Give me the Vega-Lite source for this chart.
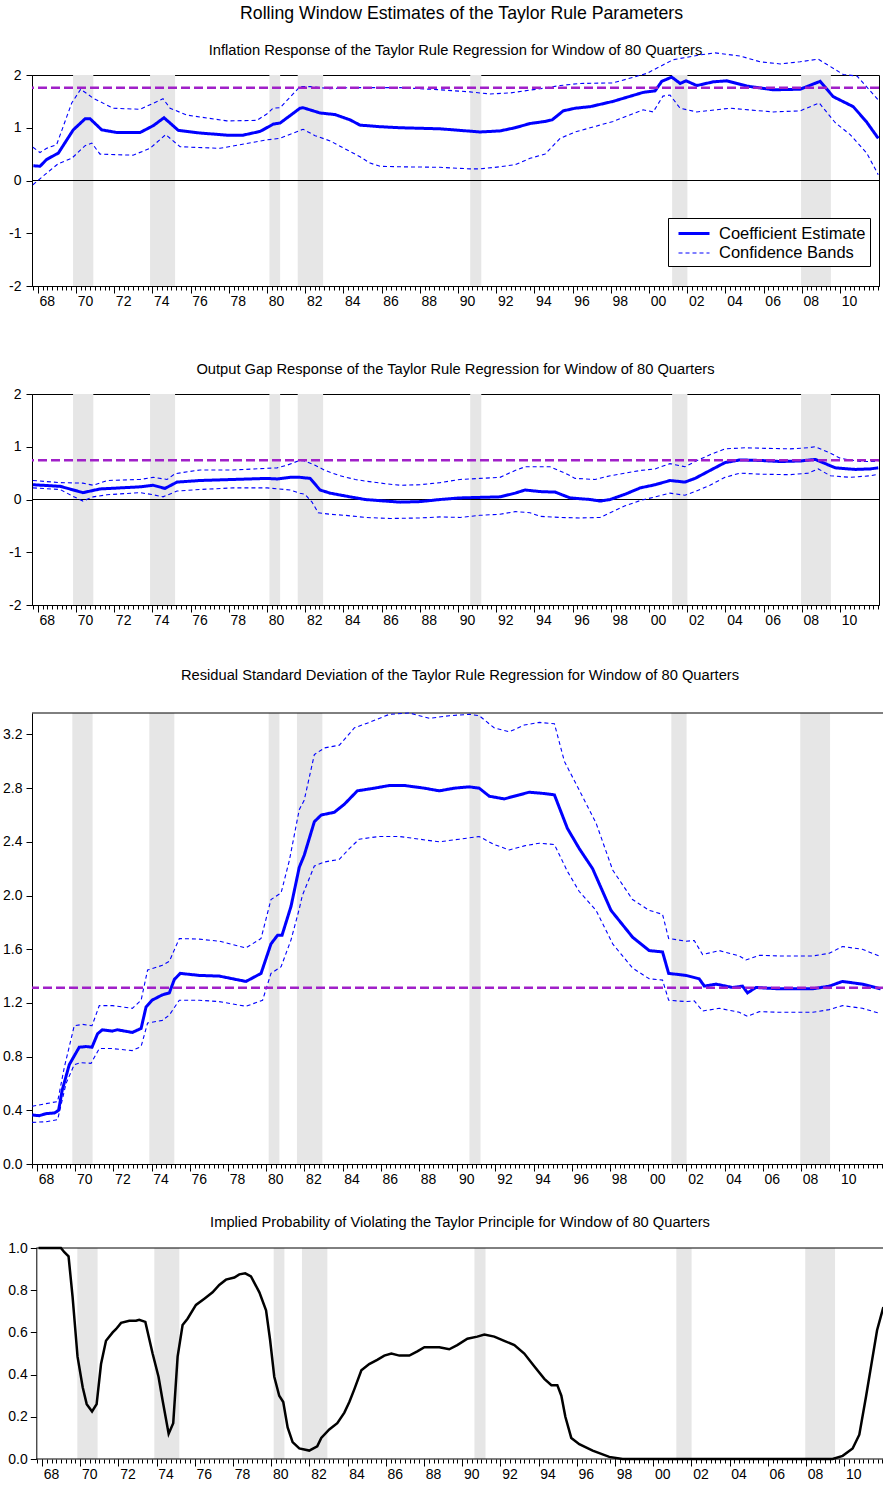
{
  "$schema": "https://vega.github.io/schema/vega-lite/v6.json",
  "padding": {"left": 0, "top": 4, "right": 0, "bottom": 4},
  "background": "white",
  "title": {"text": "Rolling Window Estimates of the Taylor Rule Parameters", "fontSize": 17.7, "fontWeight": "normal", "font": "Liberation Sans", "color": "black", "anchor": "middle", "offset": 20, "dx": 17},
  "config": {
    "font": "Liberation Sans",
    "view": {"stroke": "black", "strokeWidth": 1},
    "axis": {"labelFont": "Liberation Sans", "labelFontSize": 14, "labelColor": "black", "tickColor": "black", "domainColor": "black", "grid": false, "tickWidth": 1, "domainWidth": 1},
    "title": {"font": "Liberation Sans", "fontWeight": "normal", "color": "black"},
    "legend": {"labelFont": "Liberation Sans"}
  },
  "datasets": {
    "bands": [{"s":1969.85,"e":1970.91},{"s":1973.88,"e":1975.19},{"s":1980.13,"e":1980.69},{"s":1981.61,"e":1982.94},{"s":1990.64,"e":1991.22},{"s":2001.21,"e":2002.01},{"s":2007.96,"e":2009.52}],
    "p1": [
      {"s":"e","t":1967.77,"v":0.28},{"s":"e","t":1968.12,"v":0.27},{"s":"e","t":1968.47,"v":0.40},{"s":"e","t":1969.08,"v":0.52},{"s":"e","t":1969.86,"v":0.96},{"s":"e","t":1970.48,"v":1.17},{"s":"e","t":1970.74,"v":1.17},{"s":"e","t":1971.35,"v":0.96},{"s":"e","t":1972.14,"v":0.91},{"s":"e","t":1973.36,"v":0.91},{"s":"e","t":1974.05,"v":1.04},{"s":"e","t":1974.61,"v":1.19},{"s":"e","t":1975.36,"v":0.95},{"s":"e","t":1976.50,"v":0.90},{"s":"e","t":1977.90,"v":0.86},{"s":"e","t":1978.75,"v":0.86},{"s":"e","t":1979.64,"v":0.93},{"s":"e","t":1980.34,"v":1.07},{"s":"e","t":1980.69,"v":1.09},{"s":"e","t":1981.73,"v":1.37},{"s":"e","t":1981.89,"v":1.38},{"s":"e","t":1982.78,"v":1.28},{"s":"e","t":1983.56,"v":1.25},{"s":"e","t":1984.35,"v":1.15},{"s":"e","t":1984.87,"v":1.05},{"s":"e","t":1985.92,"v":1.02},{"s":"e","t":1986.97,"v":1.00},{"s":"e","t":1989.06,"v":0.98},{"s":"e","t":1990.11,"v":0.95},{"s":"e","t":1991.15,"v":0.92},{"s":"e","t":1992.20,"v":0.94},{"s":"e","t":1992.99,"v":1.00},{"s":"e","t":1993.77,"v":1.08},{"s":"e","t":1994.56,"v":1.12},{"s":"e","t":1994.93,"v":1.15},{"s":"e","t":1995.51,"v":1.32},{"s":"e","t":1996.13,"v":1.37},{"s":"e","t":1996.92,"v":1.40},{"s":"e","t":1998.12,"v":1.50},{"s":"e","t":1999.69,"v":1.67},{"s":"e","t":2000.32,"v":1.70},{"s":"e","t":2000.67,"v":1.88},{"s":"e","t":2001.19,"v":1.96},{"s":"e","t":2001.63,"v":1.84},{"s":"e","t":2001.94,"v":1.89},{"s":"e","t":2002.50,"v":1.80},{"s":"e","t":2003.36,"v":1.87},{"s":"e","t":2004.07,"v":1.89},{"s":"e","t":2005.12,"v":1.79},{"s":"e","t":2006.50,"v":1.72},{"s":"e","t":2007.91,"v":1.73},{"s":"e","t":2008.96,"v":1.88},{"s":"e","t":2009.64,"v":1.59},{"s":"e","t":2010.69,"v":1.40},{"s":"e","t":2011.37,"v":1.12},{"s":"e","t":2012.0,"v":0.80},
      {"s":"u","t":1967.75,"v":0.63},{"s":"u","t":1968.12,"v":0.53},{"s":"u","t":1968.47,"v":0.61},{"s":"u","t":1968.99,"v":0.68},{"s":"u","t":1969.78,"v":1.47},{"s":"u","t":1970.25,"v":1.73},{"s":"u","t":1970.91,"v":1.56},{"s":"u","t":1971.94,"v":1.37},{"s":"u","t":1973.36,"v":1.35},{"s":"u","t":1974.56,"v":1.55},{"s":"u","t":1974.93,"v":1.37},{"s":"u","t":1975.80,"v":1.24},{"s":"u","t":1977.90,"v":1.13},{"s":"u","t":1979.47,"v":1.14},{"s":"u","t":1979.99,"v":1.26},{"s":"u","t":1980.32,"v":1.37},{"s":"u","t":1980.69,"v":1.38},{"s":"u","t":1981.73,"v":1.78},{"s":"u","t":1982.26,"v":1.78},{"s":"u","t":1983.31,"v":1.74},{"s":"u","t":1984.35,"v":1.76},{"s":"u","t":1986.97,"v":1.76},{"s":"u","t":1989.06,"v":1.72},{"s":"u","t":1990.63,"v":1.68},{"s":"u","t":1991.68,"v":1.64},{"s":"u","t":1992.73,"v":1.66},{"s":"u","t":1994.30,"v":1.74},{"s":"u","t":1995.35,"v":1.80},{"s":"u","t":1996.39,"v":1.84},{"s":"u","t":1998.12,"v":1.85},{"s":"u","t":1999.88,"v":2.03},{"s":"u","t":2000.73,"v":2.19},{"s":"u","t":2001.26,"v":2.29},{"s":"u","t":2002.68,"v":2.38},{"s":"u","t":2003.46,"v":2.42},{"s":"u","t":2004.77,"v":2.36},{"s":"u","t":2005.82,"v":2.25},{"s":"u","t":2006.87,"v":2.21},{"s":"u","t":2007.91,"v":2.25},{"s":"u","t":2008.86,"v":2.30},{"s":"u","t":2010.17,"v":2.01},{"s":"u","t":2010.89,"v":1.98},{"s":"u","t":2012.0,"v":1.53},
      {"s":"l","t":1967.75,"v":-0.08},{"s":"l","t":1968.47,"v":0.14},{"s":"l","t":1969.08,"v":0.32},{"s":"l","t":1969.78,"v":0.42},{"s":"l","t":1970.48,"v":0.66},{"s":"l","t":1970.83,"v":0.71},{"s":"l","t":1971.26,"v":0.50},{"s":"l","t":1972.99,"v":0.48},{"s":"l","t":1973.88,"v":0.61},{"s":"l","t":1974.70,"v":0.87},{"s":"l","t":1975.45,"v":0.64},{"s":"l","t":1977.54,"v":0.61},{"s":"l","t":1979.99,"v":0.77},{"s":"l","t":1980.69,"v":0.80},{"s":"l","t":1981.73,"v":0.95},{"s":"l","t":1981.89,"v":0.97},{"s":"l","t":1982.52,"v":0.85},{"s":"l","t":1983.31,"v":0.75},{"s":"l","t":1984.09,"v":0.60},{"s":"l","t":1984.87,"v":0.45},{"s":"l","t":1985.40,"v":0.33},{"s":"l","t":1985.92,"v":0.27},{"s":"l","t":1986.97,"v":0.26},{"s":"l","t":1989.06,"v":0.25},{"s":"l","t":1990.63,"v":0.22},{"s":"l","t":1991.15,"v":0.22},{"s":"l","t":1992.20,"v":0.26},{"s":"l","t":1992.99,"v":0.30},{"s":"l","t":1993.77,"v":0.42},{"s":"l","t":1994.56,"v":0.50},{"s":"l","t":1995.35,"v":0.80},{"s":"l","t":1996.13,"v":0.92},{"s":"l","t":1998.12,"v":1.12},{"s":"l","t":1999.69,"v":1.34},{"s":"l","t":2000.22,"v":1.30},{"s":"l","t":2000.73,"v":1.60},{"s":"l","t":2001.10,"v":1.62},{"s":"l","t":2001.63,"v":1.37},{"s":"l","t":2002.50,"v":1.30},{"s":"l","t":2004.24,"v":1.37},{"s":"l","t":2006.50,"v":1.30},{"s":"l","t":2007.91,"v":1.32},{"s":"l","t":2008.91,"v":1.47},{"s":"l","t":2009.74,"v":1.10},{"s":"l","t":2010.53,"v":0.87},{"s":"l","t":2011.40,"v":0.52},{"s":"l","t":2012.0,"v":0.11}
    ],
    "p2": [
      {"s":"e","t":1967.75,"v":0.28},{"s":"e","t":1969.17,"v":0.25},{"s":"e","t":1970.37,"v":0.13},{"s":"e","t":1971.26,"v":0.20},{"s":"e","t":1973.36,"v":0.24},{"s":"e","t":1974.04,"v":0.27},{"s":"e","t":1974.66,"v":0.21},{"s":"e","t":1975.29,"v":0.33},{"s":"e","t":1976.50,"v":0.36},{"s":"e","t":1978.23,"v":0.38},{"s":"e","t":1980.01,"v":0.40},{"s":"e","t":1980.53,"v":0.39},{"s":"e","t":1981.21,"v":0.42},{"s":"e","t":1981.73,"v":0.42},{"s":"e","t":1982.26,"v":0.40},{"s":"e","t":1982.78,"v":0.18},{"s":"e","t":1983.31,"v":0.12},{"s":"e","t":1984.35,"v":0.05},{"s":"e","t":1985.14,"v":0.00},{"s":"e","t":1986.19,"v":-0.03},{"s":"e","t":1986.97,"v":-0.05},{"s":"e","t":1988.02,"v":-0.04},{"s":"e","t":1989.06,"v":0.00},{"s":"e","t":1990.11,"v":0.03},{"s":"e","t":1991.15,"v":0.04},{"s":"e","t":1992.20,"v":0.05},{"s":"e","t":1992.99,"v":0.12},{"s":"e","t":1993.51,"v":0.18},{"s":"e","t":1994.30,"v":0.15},{"s":"e","t":1995.09,"v":0.14},{"s":"e","t":1995.87,"v":0.03},{"s":"e","t":1996.92,"v":0.00},{"s":"e","t":1997.44,"v":-0.03},{"s":"e","t":1997.97,"v":0.00},{"s":"e","t":1998.75,"v":0.10},{"s":"e","t":1999.54,"v":0.22},{"s":"e","t":2000.32,"v":0.28},{"s":"e","t":2001.10,"v":0.36},{"s":"e","t":2001.88,"v":0.33},{"s":"e","t":2002.41,"v":0.40},{"s":"e","t":2003.19,"v":0.55},{"s":"e","t":2003.98,"v":0.70},{"s":"e","t":2004.77,"v":0.75},{"s":"e","t":2005.82,"v":0.74},{"s":"e","t":2006.87,"v":0.72},{"s":"e","t":2007.91,"v":0.73},{"s":"e","t":2008.70,"v":0.76},{"s":"e","t":2009.23,"v":0.68},{"s":"e","t":2009.75,"v":0.60},{"s":"e","t":2010.79,"v":0.57},{"s":"e","t":2011.58,"v":0.58},{"s":"e","t":2012.0,"v":0.60},
      {"s":"u","t":1967.75,"v":0.36},{"s":"u","t":1969.17,"v":0.32},{"s":"u","t":1970.37,"v":0.31},{"s":"u","t":1970.90,"v":0.27},{"s":"u","t":1971.63,"v":0.36},{"s":"u","t":1973.36,"v":0.38},{"s":"u","t":1974.04,"v":0.42},{"s":"u","t":1974.77,"v":0.38},{"s":"u","t":1975.19,"v":0.49},{"s":"u","t":1976.50,"v":0.56},{"s":"u","t":1978.23,"v":0.56},{"s":"u","t":1980.53,"v":0.60},{"s":"u","t":1981.05,"v":0.65},{"s":"u","t":1981.63,"v":0.73},{"s":"u","t":1981.89,"v":0.74},{"s":"u","t":1982.52,"v":0.65},{"s":"u","t":1983.05,"v":0.55},{"s":"u","t":1983.83,"v":0.45},{"s":"u","t":1984.62,"v":0.38},{"s":"u","t":1985.14,"v":0.35},{"s":"u","t":1986.19,"v":0.30},{"s":"u","t":1986.97,"v":0.27},{"s":"u","t":1988.02,"v":0.28},{"s":"u","t":1989.06,"v":0.32},{"s":"u","t":1990.11,"v":0.38},{"s":"u","t":1991.15,"v":0.40},{"s":"u","t":1992.20,"v":0.42},{"s":"u","t":1992.99,"v":0.55},{"s":"u","t":1993.51,"v":0.62},{"s":"u","t":1994.82,"v":0.62},{"s":"u","t":1995.61,"v":0.50},{"s":"u","t":1996.13,"v":0.40},{"s":"u","t":1997.18,"v":0.38},{"s":"u","t":1997.97,"v":0.45},{"s":"u","t":1998.75,"v":0.50},{"s":"u","t":1999.54,"v":0.55},{"s":"u","t":2000.32,"v":0.58},{"s":"u","t":2001.10,"v":0.68},{"s":"u","t":2001.88,"v":0.62},{"s":"u","t":2002.41,"v":0.72},{"s":"u","t":2003.19,"v":0.85},{"s":"u","t":2003.98,"v":0.96},{"s":"u","t":2005.03,"v":0.98},{"s":"u","t":2006.07,"v":0.97},{"s":"u","t":2007.38,"v":0.96},{"s":"u","t":2008.33,"v":0.98},{"s":"u","t":2008.70,"v":1.00},{"s":"u","t":2009.49,"v":0.88},{"s":"u","t":2010.01,"v":0.78},{"s":"u","t":2011.06,"v":0.72},{"s":"u","t":2012.0,"v":0.72},
      {"s":"l","t":1967.75,"v":0.22},{"s":"l","t":1969.17,"v":0.19},{"s":"l","t":1969.85,"v":0.06},{"s":"l","t":1970.37,"v":-0.03},{"s":"l","t":1970.90,"v":0.05},{"s":"l","t":1971.63,"v":0.09},{"s":"l","t":1973.36,"v":0.13},{"s":"l","t":1974.04,"v":0.09},{"s":"l","t":1974.56,"v":0.05},{"s":"l","t":1975.29,"v":0.16},{"s":"l","t":1976.50,"v":0.19},{"s":"l","t":1978.23,"v":0.22},{"s":"l","t":1980.01,"v":0.22},{"s":"l","t":1981.21,"v":0.18},{"s":"l","t":1981.73,"v":0.12},{"s":"l","t":1981.99,"v":0.10},{"s":"l","t":1982.36,"v":-0.05},{"s":"l","t":1982.68,"v":-0.25},{"s":"l","t":1983.31,"v":-0.28},{"s":"l","t":1984.09,"v":-0.30},{"s":"l","t":1985.14,"v":-0.34},{"s":"l","t":1986.45,"v":-0.36},{"s":"l","t":1988.02,"v":-0.35},{"s":"l","t":1989.06,"v":-0.33},{"s":"l","t":1990.11,"v":-0.34},{"s":"l","t":1991.15,"v":-0.30},{"s":"l","t":1992.20,"v":-0.28},{"s":"l","t":1992.99,"v":-0.23},{"s":"l","t":1993.77,"v":-0.25},{"s":"l","t":1994.30,"v":-0.32},{"s":"l","t":1995.35,"v":-0.34},{"s":"l","t":1996.39,"v":-0.35},{"s":"l","t":1997.44,"v":-0.34},{"s":"l","t":1997.97,"v":-0.25},{"s":"l","t":1998.75,"v":-0.12},{"s":"l","t":1999.54,"v":-0.02},{"s":"l","t":2000.32,"v":0.05},{"s":"l","t":2001.10,"v":0.12},{"s":"l","t":2001.88,"v":0.08},{"s":"l","t":2002.41,"v":0.15},{"s":"l","t":2003.19,"v":0.27},{"s":"l","t":2003.98,"v":0.42},{"s":"l","t":2004.77,"v":0.50},{"s":"l","t":2005.82,"v":0.48},{"s":"l","t":2007.38,"v":0.47},{"s":"l","t":2008.33,"v":0.50},{"s":"l","t":2008.86,"v":0.58},{"s":"l","t":2009.49,"v":0.45},{"s":"l","t":2010.53,"v":0.42},{"s":"l","t":2011.58,"v":0.45},{"s":"l","t":2012.0,"v":0.48}
    ],
    "p3": [
      {"s":"e","t":1967.75,"v":0.365},{"s":"e","t":1968.12,"v":0.36},{"s":"e","t":1968.47,"v":0.375},{"s":"e","t":1968.91,"v":0.38},{"s":"e","t":1969.13,"v":0.40},{"s":"e","t":1969.32,"v":0.55},{"s":"e","t":1969.69,"v":0.74},{"s":"e","t":1970.21,"v":0.87},{"s":"e","t":1970.57,"v":0.875},{"s":"e","t":1970.88,"v":0.87},{"s":"e","t":1971.17,"v":0.97},{"s":"e","t":1971.42,"v":1.00},{"s":"e","t":1971.94,"v":0.99},{"s":"e","t":1972.20,"v":1.00},{"s":"e","t":1972.99,"v":0.98},{"s":"e","t":1973.45,"v":1.01},{"s":"e","t":1973.71,"v":1.17},{"s":"e","t":1974.02,"v":1.22},{"s":"e","t":1974.56,"v":1.26},{"s":"e","t":1974.93,"v":1.275},{"s":"e","t":1975.19,"v":1.375},{"s":"e","t":1975.50,"v":1.42},{"s":"e","t":1976.50,"v":1.405},{"s":"e","t":1977.54,"v":1.40},{"s":"e","t":1978.94,"v":1.36},{"s":"e","t":1979.73,"v":1.42},{"s":"e","t":1980.25,"v":1.64},{"s":"e","t":1980.60,"v":1.705},{"s":"e","t":1980.83,"v":1.705},{"s":"e","t":1981.30,"v":1.92},{"s":"e","t":1981.73,"v":2.21},{"s":"e","t":1981.99,"v":2.30},{"s":"e","t":1982.52,"v":2.55},{"s":"e","t":1982.88,"v":2.60},{"s":"e","t":1983.56,"v":2.62},{"s":"e","t":1984.09,"v":2.68},{"s":"e","t":1984.77,"v":2.78},{"s":"e","t":1985.66,"v":2.80},{"s":"e","t":1986.45,"v":2.82},{"s":"e","t":1987.23,"v":2.82},{"s":"e","t":1988.28,"v":2.80},{"s":"e","t":1989.06,"v":2.78},{"s":"e","t":1989.85,"v":2.80},{"s":"e","t":1990.63,"v":2.81},{"s":"e","t":1991.15,"v":2.80},{"s":"e","t":1991.68,"v":2.74},{"s":"e","t":1992.46,"v":2.72},{"s":"e","t":1993.25,"v":2.75},{"s":"e","t":1993.77,"v":2.77},{"s":"e","t":1994.56,"v":2.76},{"s":"e","t":1995.09,"v":2.75},{"s":"e","t":1995.77,"v":2.50},{"s":"e","t":1996.39,"v":2.35},{"s":"e","t":1997.09,"v":2.20},{"s":"e","t":1998.05,"v":1.89},{"s":"e","t":1999.18,"v":1.69},{"s":"e","t":2000.05,"v":1.59},{"s":"e","t":2000.75,"v":1.58},{"s":"e","t":2001.07,"v":1.42},{"s":"e","t":2001.98,"v":1.405},{"s":"e","t":2002.67,"v":1.38},{"s":"e","t":2002.94,"v":1.325},{"s":"e","t":2003.55,"v":1.34},{"s":"e","t":2004.42,"v":1.315},{"s":"e","t":2004.94,"v":1.325},{"s":"e","t":2005.20,"v":1.275},{"s":"e","t":2005.64,"v":1.315},{"s":"e","t":2006.86,"v":1.305},{"s":"e","t":2008.61,"v":1.305},{"s":"e","t":2009.48,"v":1.325},{"s":"e","t":2010.17,"v":1.36},{"s":"e","t":2011.21,"v":1.34},{"s":"e","t":2012.17,"v":1.305},
      {"s":"u","t":1967.75,"v":0.43},{"s":"u","t":1968.47,"v":0.45},{"s":"u","t":1969.08,"v":0.465},{"s":"u","t":1969.43,"v":0.72},{"s":"u","t":1969.95,"v":1.03},{"s":"u","t":1970.39,"v":1.04},{"s":"u","t":1970.88,"v":1.03},{"s":"u","t":1971.26,"v":1.18},{"s":"u","t":1971.94,"v":1.18},{"s":"u","t":1972.99,"v":1.16},{"s":"u","t":1973.45,"v":1.22},{"s":"u","t":1973.79,"v":1.445},{"s":"u","t":1974.56,"v":1.48},{"s":"u","t":1974.93,"v":1.51},{"s":"u","t":1975.45,"v":1.68},{"s":"u","t":1976.50,"v":1.675},{"s":"u","t":1977.54,"v":1.66},{"s":"u","t":1978.94,"v":1.61},{"s":"u","t":1979.73,"v":1.68},{"s":"u","t":1980.25,"v":1.97},{"s":"u","t":1980.78,"v":2.02},{"s":"u","t":1981.21,"v":2.26},{"s":"u","t":1981.73,"v":2.64},{"s":"u","t":1981.99,"v":2.71},{"s":"u","t":1982.52,"v":3.05},{"s":"u","t":1983.05,"v":3.10},{"s":"u","t":1983.83,"v":3.12},{"s":"u","t":1984.62,"v":3.25},{"s":"u","t":1985.40,"v":3.29},{"s":"u","t":1986.45,"v":3.35},{"s":"u","t":1987.50,"v":3.36},{"s":"u","t":1988.55,"v":3.32},{"s":"u","t":1989.59,"v":3.34},{"s":"u","t":1990.63,"v":3.35},{"s":"u","t":1991.15,"v":3.34},{"s":"u","t":1991.93,"v":3.25},{"s":"u","t":1992.73,"v":3.22},{"s":"u","t":1993.51,"v":3.27},{"s":"u","t":1994.30,"v":3.29},{"s":"u","t":1995.09,"v":3.28},{"s":"u","t":1995.61,"v":3.00},{"s":"u","t":1996.39,"v":2.785},{"s":"u","t":1997.27,"v":2.54},{"s":"u","t":1998.14,"v":2.19},{"s":"u","t":1999.18,"v":1.97},{"s":"u","t":2000.05,"v":1.89},{"s":"u","t":2000.75,"v":1.86},{"s":"u","t":2001.07,"v":1.68},{"s":"u","t":2001.98,"v":1.66},{"s":"u","t":2002.41,"v":1.665},{"s":"u","t":2002.85,"v":1.56},{"s":"u","t":2003.72,"v":1.59},{"s":"u","t":2004.77,"v":1.55},{"s":"u","t":2005.12,"v":1.52},{"s":"u","t":2005.82,"v":1.555},{"s":"u","t":2006.86,"v":1.55},{"s":"u","t":2008.61,"v":1.55},{"s":"u","t":2009.48,"v":1.57},{"s":"u","t":2010.17,"v":1.62},{"s":"u","t":2011.21,"v":1.60},{"s":"u","t":2012.17,"v":1.545},
      {"s":"l","t":1967.75,"v":0.31},{"s":"l","t":1968.47,"v":0.315},{"s":"l","t":1969.08,"v":0.33},{"s":"l","t":1969.52,"v":0.60},{"s":"l","t":1969.95,"v":0.74},{"s":"l","t":1970.30,"v":0.755},{"s":"l","t":1970.83,"v":0.75},{"s":"l","t":1971.26,"v":0.86},{"s":"l","t":1971.94,"v":0.86},{"s":"l","t":1972.99,"v":0.845},{"s":"l","t":1973.45,"v":0.875},{"s":"l","t":1973.79,"v":1.05},{"s":"l","t":1974.56,"v":1.07},{"s":"l","t":1974.93,"v":1.11},{"s":"l","t":1975.45,"v":1.22},{"s":"l","t":1976.50,"v":1.22},{"s":"l","t":1977.54,"v":1.21},{"s":"l","t":1978.94,"v":1.175},{"s":"l","t":1979.81,"v":1.22},{"s":"l","t":1980.25,"v":1.42},{"s":"l","t":1980.78,"v":1.47},{"s":"l","t":1981.30,"v":1.67},{"s":"l","t":1981.73,"v":1.90},{"s":"l","t":1981.89,"v":2.00},{"s":"l","t":1982.52,"v":2.22},{"s":"l","t":1983.05,"v":2.25},{"s":"l","t":1983.83,"v":2.27},{"s":"l","t":1984.35,"v":2.35},{"s":"l","t":1984.87,"v":2.42},{"s":"l","t":1985.92,"v":2.44},{"s":"l","t":1986.97,"v":2.44},{"s":"l","t":1988.02,"v":2.42},{"s":"l","t":1989.06,"v":2.40},{"s":"l","t":1990.11,"v":2.42},{"s":"l","t":1991.15,"v":2.44},{"s":"l","t":1991.93,"v":2.38},{"s":"l","t":1992.73,"v":2.34},{"s":"l","t":1993.51,"v":2.37},{"s":"l","t":1994.30,"v":2.39},{"s":"l","t":1995.09,"v":2.38},{"s":"l","t":1995.77,"v":2.18},{"s":"l","t":1996.39,"v":2.03},{"s":"l","t":1997.27,"v":1.89},{"s":"l","t":1998.14,"v":1.64},{"s":"l","t":1999.18,"v":1.46},{"s":"l","t":2000.05,"v":1.38},{"s":"l","t":2000.75,"v":1.37},{"s":"l","t":2001.07,"v":1.22},{"s":"l","t":2001.98,"v":1.21},{"s":"l","t":2002.41,"v":1.215},{"s":"l","t":2002.85,"v":1.14},{"s":"l","t":2003.72,"v":1.16},{"s":"l","t":2004.77,"v":1.13},{"s":"l","t":2005.20,"v":1.10},{"s":"l","t":2005.82,"v":1.135},{"s":"l","t":2006.86,"v":1.13},{"s":"l","t":2008.61,"v":1.13},{"s":"l","t":2009.48,"v":1.15},{"s":"l","t":2010.17,"v":1.18},{"s":"l","t":2011.21,"v":1.16},{"s":"l","t":2012.17,"v":1.12}
    ],
    "p4": [
      {"t":1967.82,"v":1.0},{"t":1968.99,"v":1.0},{"t":1969.17,"v":0.98},{"t":1969.39,"v":0.96},{"t":1969.60,"v":0.77},{"t":1969.86,"v":0.485},{"t":1970.13,"v":0.34},{"t":1970.34,"v":0.26},{"t":1970.62,"v":0.225},{"t":1970.86,"v":0.26},{"t":1971.09,"v":0.45},{"t":1971.35,"v":0.56},{"t":1971.70,"v":0.60},{"t":1971.87,"v":0.615},{"t":1972.14,"v":0.645},{"t":1972.57,"v":0.655},{"t":1972.92,"v":0.655},{"t":1973.09,"v":0.66},{"t":1973.41,"v":0.65},{"t":1973.79,"v":0.50},{"t":1974.10,"v":0.39},{"t":1974.31,"v":0.28},{"t":1974.63,"v":0.12},{"t":1974.87,"v":0.17},{"t":1975.10,"v":0.485},{"t":1975.36,"v":0.635},{"t":1975.62,"v":0.665},{"t":1976.06,"v":0.73},{"t":1976.50,"v":0.76},{"t":1976.93,"v":0.79},{"t":1977.28,"v":0.825},{"t":1977.63,"v":0.85},{"t":1978.07,"v":0.86},{"t":1978.33,"v":0.875},{"t":1978.64,"v":0.88},{"t":1978.94,"v":0.865},{"t":1979.38,"v":0.79},{"t":1979.73,"v":0.705},{"t":1979.94,"v":0.565},{"t":1980.16,"v":0.39},{"t":1980.42,"v":0.30},{"t":1980.63,"v":0.27},{"t":1980.86,"v":0.15},{"t":1981.12,"v":0.08},{"t":1981.47,"v":0.05},{"t":1981.99,"v":0.04},{"t":1982.41,"v":0.06},{"t":1982.62,"v":0.10},{"t":1983.04,"v":0.14},{"t":1983.46,"v":0.17},{"t":1983.83,"v":0.22},{"t":1984.09,"v":0.27},{"t":1984.35,"v":0.33},{"t":1984.72,"v":0.42},{"t":1985.13,"v":0.45},{"t":1985.55,"v":0.47},{"t":1985.92,"v":0.49},{"t":1986.29,"v":0.50},{"t":1986.71,"v":0.49},{"t":1987.23,"v":0.49},{"t":1987.65,"v":0.51},{"t":1988.02,"v":0.53},{"t":1988.80,"v":0.53},{"t":1989.32,"v":0.52},{"t":1989.74,"v":0.54},{"t":1990.27,"v":0.57},{"t":1990.79,"v":0.58},{"t":1991.16,"v":0.59},{"t":1991.68,"v":0.58},{"t":1992.20,"v":0.56},{"t":1992.73,"v":0.54},{"t":1993.25,"v":0.50},{"t":1993.77,"v":0.44},{"t":1994.30,"v":0.38},{"t":1994.67,"v":0.35},{"t":1994.98,"v":0.35},{"t":1995.19,"v":0.30},{"t":1995.40,"v":0.20},{"t":1995.71,"v":0.10},{"t":1996.13,"v":0.07},{"t":1996.83,"v":0.04},{"t":1997.70,"v":0.01},{"t":1998.40,"v":0.0},{"t":2009.39,"v":0.0},{"t":2009.92,"v":0.015},{"t":2010.44,"v":0.05},{"t":2010.79,"v":0.115},{"t":2011.14,"v":0.295},{"t":2011.49,"v":0.485},{"t":2011.72,"v":0.61},{"t":2012.05,"v":0.72}
    ]
  },
  "spacing": 40,
  "vconcat": [
    {
      "bounds": "flush",
      "spacing": 108,
      "vconcat": [
        {
          "width": 847, "height": 211,
          "title": {"text": "Inflation Response of the Taylor Rule Regression for Window of 80 Quarters", "fontSize": 14.7, "anchor": "middle", "frame": "group", "offset": -19, "baseline": "alphabetic"},
          "resolve": {"axis": {"x": "independent"}},
          "layer": [
            {"data": {"name": "bands"}, "mark": {"type": "rect", "color": "#E6E6E6"},
             "encoding": {
               "x": {"field": "s", "type": "quantitative", "scale": {"domain": [1967.70, 2012.04], "nice": false, "zero": false},
                     "axis": {"orient": "bottom", "values": [1968,1970,1972,1974,1976,1978,1980,1982,1984,1986,1988,1990,1992,1994,1996,1998,2000,2002,2004,2006,2008,2010], "tickSize": 7, "labelExpr": "slice(toString(datum.value), 2)", "labelOffset": 9, "labelPadding": 1, "labelFlush": false, "labelOverlap": false, "title": null, "domain": true}},
               "x2": {"field": "e"}}},
            {"data": {"values": [{"r": 0}]}, "mark": {"type": "rule", "color": "black", "strokeWidth": 1},
             "encoding": {"y": {"field": "r", "type": "quantitative", "scale": {"domain": [-2, 2], "nice": false, "zero": false},
                     "axis": {"values": [-2,-1,0,1,2], "labelExpr": "datum.value < 0 ? '-' + abs(datum.value) : '' + datum.value", "tickSize": 6, "labelPadding": 5, "title": " ", "titleColor": "#ffffff", "titleFontSize": 1, "titleX": -29.5, "titleY": 5, "domain": true}}}},
            {"data": {"name": "p1"}, "mark": {"type": "line", "color": "#0000FF"},
             "encoding": {
               "x": {"field": "t", "type": "quantitative", "scale": {"domain": [1967.70, 2012.04], "nice": false, "zero": false},
                     "axis": {"orient": "bottom", "values": [1967.75,1968,1968.25,1968.5,1968.75,1969,1969.25,1969.5,1969.75,1970,1970.25,1970.5,1970.75,1971,1971.25,1971.5,1971.75,1972,1972.25,1972.5,1972.75,1973,1973.25,1973.5,1973.75,1974,1974.25,1974.5,1974.75,1975,1975.25,1975.5,1975.75,1976,1976.25,1976.5,1976.75,1977,1977.25,1977.5,1977.75,1978,1978.25,1978.5,1978.75,1979,1979.25,1979.5,1979.75,1980,1980.25,1980.5,1980.75,1981,1981.25,1981.5,1981.75,1982,1982.25,1982.5,1982.75,1983,1983.25,1983.5,1983.75,1984,1984.25,1984.5,1984.75,1985,1985.25,1985.5,1985.75,1986,1986.25,1986.5,1986.75,1987,1987.25,1987.5,1987.75,1988,1988.25,1988.5,1988.75,1989,1989.25,1989.5,1989.75,1990,1990.25,1990.5,1990.75,1991,1991.25,1991.5,1991.75,1992,1992.25,1992.5,1992.75,1993,1993.25,1993.5,1993.75,1994,1994.25,1994.5,1994.75,1995,1995.25,1995.5,1995.75,1996,1996.25,1996.5,1996.75,1997,1997.25,1997.5,1997.75,1998,1998.25,1998.5,1998.75,1999,1999.25,1999.5,1999.75,2000,2000.25,2000.5,2000.75,2001,2001.25,2001.5,2001.75,2002,2002.25,2002.5,2002.75,2003,2003.25,2003.5,2003.75,2004,2004.25,2004.5,2004.75,2005,2005.25,2005.5,2005.75,2006,2006.25,2006.5,2006.75,2007,2007.25,2007.5,2007.75,2008,2008.25,2008.5,2008.75,2009,2009.25,2009.5,2009.75,2010,2010.25,2010.5,2010.75,2011,2011.25,2011.5,2011.75,2012], "tickSize": 4, "labels": false, "domain": false, "title": null}},
               "y": {"field": "v", "type": "quantitative", "scale": {"domain": [-2, 2], "nice": false, "zero": false},
                     "axis": {"values": [-2,-1,0,1,2], "labelExpr": "datum.value < 0 ? '-' + abs(datum.value) : '' + datum.value", "tickSize": 6, "labelPadding": 5, "title": " ", "titleColor": "#ffffff", "titleFontSize": 1, "titleX": -29.5, "titleY": 5, "domain": true}},
               "strokeDash": {"field": "s", "type": "nominal", "scale": {"domain": ["e","u","l"], "range": [[1,0],[4,3],[4,3]]},
                     "legend": {"values": ["e","u"], "labelExpr": "datum.label == 'e' ? 'Coefficient Estimate' : 'Confidence Bands'", "title": null, "orient": "none", "legendX": 636, "legendY": 143, "symbolType": "M-0.5,0L2.6,0", "symbolSize": 400, "symbolStrokeColor": "#0000FF", "labelFontSize": 16.5, "strokeColor": "black", "fillColor": "white", "padding": 4, "rowPadding": 0, "labelOffset": 24}},
               "strokeWidth": {"field": "s", "type": "nominal", "scale": {"type": "ordinal", "domain": ["e","u","l"], "range": [3,1.1,1.1]},
                     "legend": {"values": ["e","u"], "labelExpr": "datum.label == 'e' ? 'Coefficient Estimate' : 'Confidence Bands'", "title": null, "orient": "none", "legendX": 636, "legendY": 143, "symbolType": "M-0.5,0L2.6,0", "symbolSize": 400, "symbolStrokeColor": "#0000FF", "labelFontSize": 16.5, "strokeColor": "black", "fillColor": "white", "padding": 4, "rowPadding": 0, "labelOffset": 24}}
             }},
            {"data": {"values": [{"r": 1.76}]}, "mark": {"type": "rule", "color": "#A020C8", "strokeWidth": 2.5, "strokeDash": [9, 4]},
             "encoding": {"y": {"field": "r", "type": "quantitative", "scale": {"domain": [-2, 2], "nice": false, "zero": false},
                     "axis": {"values": [-2,-1,0,1,2], "labelExpr": "datum.value < 0 ? '-' + abs(datum.value) : '' + datum.value", "tickSize": 6, "labelPadding": 5, "title": " ", "titleColor": "#ffffff", "titleFontSize": 1, "titleX": -29.5, "titleY": 5, "domain": true}}}}
          ]
        },
        {
          "width": 847, "height": 211,
          "title": {"text": "Output Gap Response of the Taylor Rule Regression for Window of 80 Quarters", "fontSize": 14.7, "anchor": "middle", "frame": "group", "offset": -1.5, "baseline": "alphabetic"},
          "resolve": {"axis": {"x": "independent"}},
          "layer": [
            {"data": {"name": "bands"}, "mark": {"type": "rect", "color": "#E6E6E6"},
             "encoding": {
               "x": {"field": "s", "type": "quantitative", "scale": {"domain": [1967.70, 2012.04], "nice": false, "zero": false},
                     "axis": {"orient": "bottom", "values": [1968,1970,1972,1974,1976,1978,1980,1982,1984,1986,1988,1990,1992,1994,1996,1998,2000,2002,2004,2006,2008,2010], "tickSize": 7, "labelExpr": "slice(toString(datum.value), 2)", "labelOffset": 9, "labelPadding": 1, "labelFlush": false, "labelOverlap": false, "title": null, "domain": true}},
               "x2": {"field": "e"}}},
            {"data": {"values": [{"r": 0}]}, "mark": {"type": "rule", "color": "black", "strokeWidth": 1},
             "encoding": {"y": {"field": "r", "type": "quantitative", "scale": {"domain": [-2, 2], "nice": false, "zero": false},
                     "axis": {"values": [-2,-1,0,1,2], "labelExpr": "datum.value < 0 ? '-' + abs(datum.value) : '' + datum.value", "tickSize": 6, "labelPadding": 5, "title": null, "domain": true}}}},
            {"data": {"name": "p2"}, "mark": {"type": "line", "color": "#0000FF"},
             "encoding": {
               "x": {"field": "t", "type": "quantitative", "scale": {"domain": [1967.70, 2012.04], "nice": false, "zero": false},
                     "axis": {"orient": "bottom", "values": [1967.75,1968,1968.25,1968.5,1968.75,1969,1969.25,1969.5,1969.75,1970,1970.25,1970.5,1970.75,1971,1971.25,1971.5,1971.75,1972,1972.25,1972.5,1972.75,1973,1973.25,1973.5,1973.75,1974,1974.25,1974.5,1974.75,1975,1975.25,1975.5,1975.75,1976,1976.25,1976.5,1976.75,1977,1977.25,1977.5,1977.75,1978,1978.25,1978.5,1978.75,1979,1979.25,1979.5,1979.75,1980,1980.25,1980.5,1980.75,1981,1981.25,1981.5,1981.75,1982,1982.25,1982.5,1982.75,1983,1983.25,1983.5,1983.75,1984,1984.25,1984.5,1984.75,1985,1985.25,1985.5,1985.75,1986,1986.25,1986.5,1986.75,1987,1987.25,1987.5,1987.75,1988,1988.25,1988.5,1988.75,1989,1989.25,1989.5,1989.75,1990,1990.25,1990.5,1990.75,1991,1991.25,1991.5,1991.75,1992,1992.25,1992.5,1992.75,1993,1993.25,1993.5,1993.75,1994,1994.25,1994.5,1994.75,1995,1995.25,1995.5,1995.75,1996,1996.25,1996.5,1996.75,1997,1997.25,1997.5,1997.75,1998,1998.25,1998.5,1998.75,1999,1999.25,1999.5,1999.75,2000,2000.25,2000.5,2000.75,2001,2001.25,2001.5,2001.75,2002,2002.25,2002.5,2002.75,2003,2003.25,2003.5,2003.75,2004,2004.25,2004.5,2004.75,2005,2005.25,2005.5,2005.75,2006,2006.25,2006.5,2006.75,2007,2007.25,2007.5,2007.75,2008,2008.25,2008.5,2008.75,2009,2009.25,2009.5,2009.75,2010,2010.25,2010.5,2010.75,2011,2011.25,2011.5,2011.75,2012], "tickSize": 4, "labels": false, "domain": false, "title": null}},
               "y": {"field": "v", "type": "quantitative", "scale": {"domain": [-2, 2], "nice": false, "zero": false},
                     "axis": {"values": [-2,-1,0,1,2], "labelExpr": "datum.value < 0 ? '-' + abs(datum.value) : '' + datum.value", "tickSize": 6, "labelPadding": 5, "title": null, "domain": true}},
               "strokeDash": {"field": "s", "type": "nominal", "scale": {"domain": ["e","u","l"], "range": [[1,0],[4,3],[4,3]]}, "legend": null},
               "strokeWidth": {"field": "s", "type": "nominal", "scale": {"type": "ordinal", "domain": ["e","u","l"], "range": [3,1.1,1.1]}, "legend": null}
             }},
            {"data": {"values": [{"r": 0.745}]}, "mark": {"type": "rule", "color": "#A020C8", "strokeWidth": 2.5, "strokeDash": [9, 4]},
             "encoding": {"y": {"field": "r", "type": "quantitative", "scale": {"domain": [-2, 2], "nice": false, "zero": false},
                     "axis": {"values": [-2,-1,0,1,2], "labelExpr": "datum.value < 0 ? '-' + abs(datum.value) : '' + datum.value", "tickSize": 6, "labelPadding": 5, "title": null, "domain": true}}}}
          ]
        }
      ]
    },
    {
      "bounds": "flush",
      "spacing": 84,
      "vconcat": [
        {
          "width": 852, "height": 451,
          "view": {"stroke": null},
          "title": {"text": "Residual Standard Deviation of the Taylor Rule Regression for Window of 80 Quarters", "fontSize": 14.7, "anchor": "middle", "frame": "group", "offset": 16, "baseline": "alphabetic", "dx": 2},
          "resolve": {"axis": {"x": "independent"}},
          "layer": [
            {"data": {"name": "bands"}, "mark": {"type": "rect", "color": "#E6E6E6"},
             "encoding": {
               "x": {"field": "s", "type": "quantitative", "scale": {"domain": [1967.738, 2012.345], "nice": false, "zero": false},
                     "axis": {"orient": "bottom", "values": [1968,1970,1972,1974,1976,1978,1980,1982,1984,1986,1988,1990,1992,1994,1996,1998,2000,2002,2004,2006,2008,2010], "tickSize": 7, "labelExpr": "slice(toString(datum.value), 2)", "labelOffset": 9, "labelPadding": 1, "labelFlush": false, "labelOverlap": false, "title": null, "domain": true}},
               "x2": {"field": "e"}}},
            {"data": {"values": [{"r": 3.36}]}, "mark": {"type": "rule", "color": "black", "strokeWidth": 1},
             "encoding": {"y": {"field": "r", "type": "quantitative", "scale": {"domain": [0, 3.36], "nice": false, "zero": false},
                     "axis": {"values": [0,0.4,0.8,1.2,1.6,2.0,2.4,2.8,3.2], "format": ".1f", "tickSize": 6, "labelPadding": 4, "title": " ", "titleColor": "#ffffff", "titleFontSize": 1, "titleX": -30.2, "titleY": 5, "domain": true}}}},
            {"data": {"name": "p3"}, "mark": {"type": "line", "color": "#0000FF"},
             "encoding": {
               "x": {"field": "t", "type": "quantitative", "scale": {"domain": [1967.738, 2012.345], "nice": false, "zero": false},
                     "axis": {"orient": "bottom", "values": [1967.75,1968,1968.25,1968.5,1968.75,1969,1969.25,1969.5,1969.75,1970,1970.25,1970.5,1970.75,1971,1971.25,1971.5,1971.75,1972,1972.25,1972.5,1972.75,1973,1973.25,1973.5,1973.75,1974,1974.25,1974.5,1974.75,1975,1975.25,1975.5,1975.75,1976,1976.25,1976.5,1976.75,1977,1977.25,1977.5,1977.75,1978,1978.25,1978.5,1978.75,1979,1979.25,1979.5,1979.75,1980,1980.25,1980.5,1980.75,1981,1981.25,1981.5,1981.75,1982,1982.25,1982.5,1982.75,1983,1983.25,1983.5,1983.75,1984,1984.25,1984.5,1984.75,1985,1985.25,1985.5,1985.75,1986,1986.25,1986.5,1986.75,1987,1987.25,1987.5,1987.75,1988,1988.25,1988.5,1988.75,1989,1989.25,1989.5,1989.75,1990,1990.25,1990.5,1990.75,1991,1991.25,1991.5,1991.75,1992,1992.25,1992.5,1992.75,1993,1993.25,1993.5,1993.75,1994,1994.25,1994.5,1994.75,1995,1995.25,1995.5,1995.75,1996,1996.25,1996.5,1996.75,1997,1997.25,1997.5,1997.75,1998,1998.25,1998.5,1998.75,1999,1999.25,1999.5,1999.75,2000,2000.25,2000.5,2000.75,2001,2001.25,2001.5,2001.75,2002,2002.25,2002.5,2002.75,2003,2003.25,2003.5,2003.75,2004,2004.25,2004.5,2004.75,2005,2005.25,2005.5,2005.75,2006,2006.25,2006.5,2006.75,2007,2007.25,2007.5,2007.75,2008,2008.25,2008.5,2008.75,2009,2009.25,2009.5,2009.75,2010,2010.25,2010.5,2010.75,2011,2011.25,2011.5,2011.75,2012,2012.25], "tickSize": 4, "labels": false, "domain": false, "title": null}},
               "y": {"field": "v", "type": "quantitative", "scale": {"domain": [0, 3.36], "nice": false, "zero": false},
                     "axis": {"values": [0,0.4,0.8,1.2,1.6,2.0,2.4,2.8,3.2], "format": ".1f", "tickSize": 6, "labelPadding": 4, "title": " ", "titleColor": "#ffffff", "titleFontSize": 1, "titleX": -30.2, "titleY": 5, "domain": true}},
               "strokeDash": {"field": "s", "type": "nominal", "scale": {"domain": ["e","u","l"], "range": [[1,0],[4,3],[4,3]]}, "legend": null},
               "strokeWidth": {"field": "s", "type": "nominal", "scale": {"type": "ordinal", "domain": ["e","u","l"], "range": [3,1.1,1.1]}, "legend": null}
             }},
            {"data": {"values": [{"r": 1.313}]}, "mark": {"type": "rule", "color": "#A020C8", "strokeWidth": 2.5, "strokeDash": [9, 4]},
             "encoding": {"y": {"field": "r", "type": "quantitative", "scale": {"domain": [0, 3.36], "nice": false, "zero": false},
                     "axis": {"values": [0,0.4,0.8,1.2,1.6,2.0,2.4,2.8,3.2], "format": ".1f", "tickSize": 6, "labelPadding": 4, "title": " ", "titleColor": "#ffffff", "titleFontSize": 1, "titleX": -30.2, "titleY": 5, "domain": true}}}}
          ]
        },
        {
          "width": 852, "height": 211,
          "view": {"stroke": null},
          "title": {"text": "Implied Probability of Violating the Taylor Principle for Window of 80 Quarters", "fontSize": 14.7, "anchor": "middle", "frame": "group", "offset": -0.5, "baseline": "alphabetic", "dx": 2},
          "resolve": {"axis": {"x": "independent"}},
          "layer": [
            {"data": {"name": "bands"}, "mark": {"type": "rect", "color": "#E6E6E6"},
             "encoding": {
               "x": {"field": "s", "type": "quantitative", "scale": {"domain": [1967.476, 2012.083], "nice": false, "zero": false},
                     "axis": {"orient": "bottom", "values": [1968,1970,1972,1974,1976,1978,1980,1982,1984,1986,1988,1990,1992,1994,1996,1998,2000,2002,2004,2006,2008,2010], "tickSize": 7, "labelExpr": "slice(toString(datum.value), 2)", "labelOffset": 9, "labelPadding": 1, "labelFlush": false, "labelOverlap": false, "title": null, "domain": false}},
               "x2": {"field": "e"}}},
            {"data": {"values": [{"a": 1967.70, "b": 2012.083, "r": 1}, {"a": 1967.70, "b": 2012.083, "r": 0}]}, "mark": {"type": "rule", "color": "black", "strokeWidth": 1},
             "encoding": {"x": {"field": "a", "type": "quantitative", "scale": {"domain": [1967.476, 2012.083], "nice": false, "zero": false}, "axis": null}, "x2": {"field": "b"},
                          "y": {"field": "r", "type": "quantitative", "scale": {"domain": [0, 1], "nice": false, "zero": false},
                                "axis": {"values": [0,0.2,0.4,0.6,0.8,1.0], "format": ".1f", "tickSize": 6, "labelPadding": 3, "offset": -4.3, "title": null, "domain": true}}}},
            {"data": {"name": "p4"}, "mark": {"type": "line", "color": "black", "strokeWidth": 2.5},
             "encoding": {
               "x": {"field": "t", "type": "quantitative", "scale": {"domain": [1967.476, 2012.083], "nice": false, "zero": false},
                     "axis": {"orient": "bottom", "values": [1967.75,1968,1968.25,1968.5,1968.75,1969,1969.25,1969.5,1969.75,1970,1970.25,1970.5,1970.75,1971,1971.25,1971.5,1971.75,1972,1972.25,1972.5,1972.75,1973,1973.25,1973.5,1973.75,1974,1974.25,1974.5,1974.75,1975,1975.25,1975.5,1975.75,1976,1976.25,1976.5,1976.75,1977,1977.25,1977.5,1977.75,1978,1978.25,1978.5,1978.75,1979,1979.25,1979.5,1979.75,1980,1980.25,1980.5,1980.75,1981,1981.25,1981.5,1981.75,1982,1982.25,1982.5,1982.75,1983,1983.25,1983.5,1983.75,1984,1984.25,1984.5,1984.75,1985,1985.25,1985.5,1985.75,1986,1986.25,1986.5,1986.75,1987,1987.25,1987.5,1987.75,1988,1988.25,1988.5,1988.75,1989,1989.25,1989.5,1989.75,1990,1990.25,1990.5,1990.75,1991,1991.25,1991.5,1991.75,1992,1992.25,1992.5,1992.75,1993,1993.25,1993.5,1993.75,1994,1994.25,1994.5,1994.75,1995,1995.25,1995.5,1995.75,1996,1996.25,1996.5,1996.75,1997,1997.25,1997.5,1997.75,1998,1998.25,1998.5,1998.75,1999,1999.25,1999.5,1999.75,2000,2000.25,2000.5,2000.75,2001,2001.25,2001.5,2001.75,2002,2002.25,2002.5,2002.75,2003,2003.25,2003.5,2003.75,2004,2004.25,2004.5,2004.75,2005,2005.25,2005.5,2005.75,2006,2006.25,2006.5,2006.75,2007,2007.25,2007.5,2007.75,2008,2008.25,2008.5,2008.75,2009,2009.25,2009.5,2009.75,2010,2010.25,2010.5,2010.75,2011,2011.25,2011.5,2011.75,2012], "tickSize": 4, "labels": false, "domain": false, "title": null}},
               "y": {"field": "v", "type": "quantitative", "scale": {"domain": [0, 1], "nice": false, "zero": false},
                     "axis": {"values": [0,0.2,0.4,0.6,0.8,1.0], "format": ".1f", "tickSize": 6, "labelPadding": 3, "offset": -4.3, "title": null, "domain": true}}
             }}
          ]
        }
      ]
    }
  ]
}
